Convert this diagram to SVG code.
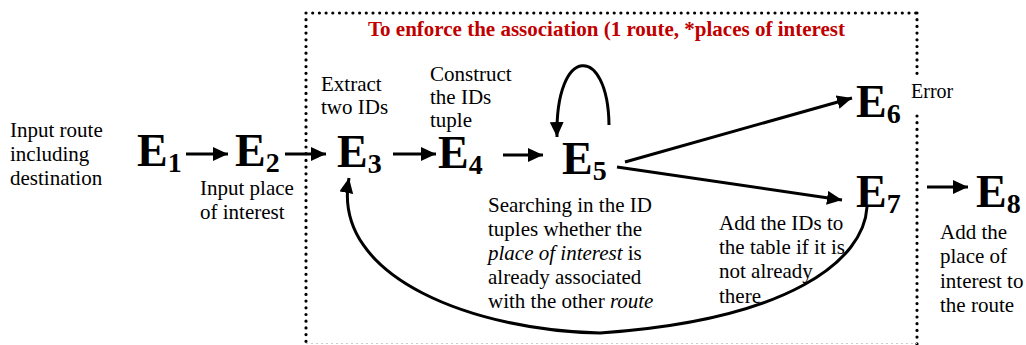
<svg xmlns="http://www.w3.org/2000/svg" width="1026" height="345" viewBox="0 0 1026 345">
<style>
text{font-family:"Liberation Serif","Tinos","Times New Roman","Noto Serif","DejaVu Serif",serif}
.t{font-size:21px;fill:#000}
.e{font-size:46px;font-weight:bold;fill:#000}
.s{font-size:28px}
.i{font-style:italic}
.c{fill:none;stroke:#000;stroke-width:3}
.dot{fill:none;stroke:#000;stroke-width:3.2;stroke-linecap:round;stroke-dasharray:0 6.7}
.title{font-size:21px;font-weight:bold;fill:#c00000}
</style>
<defs>
<marker id="ah" markerUnits="userSpaceOnUse" markerWidth="16" markerHeight="14" refX="15" refY="7" orient="auto">
<path d="M0,0 L15,7 L0,14 z" fill="#000"/>
</marker>
</defs>
<rect width="1026" height="345" fill="#fff"/>
<g id="frame">
<path class="dot" d="M306,13 H917 M306,13 V345 M917,13 V77 M917,116 V345"/>
<path d="M306,343.5 H917" stroke="#ccc" stroke-width="1" stroke-dasharray="2 3" fill="none"/>
<text class="title" x="368" y="36">To enforce the association (1 route, *places of interest</text>
</g>
<g id="connectors">
<path class="c" d="M186,154 L228,154" marker-end="url(#ah)"/>
<path class="c" d="M285,154 L326,154" marker-end="url(#ah)"/>
<path class="c" d="M393,154 L436,154" marker-end="url(#ah)"/>
<path class="c" d="M503,155 L543,155" marker-end="url(#ah)"/>
<path class="c" d="M625,162 L852,98" marker-end="url(#ah)"/>
<path class="c" d="M617,167 L842,200" marker-end="url(#ah)"/>
<path class="c" d="M927,187 L968,187" marker-end="url(#ah)"/>
<path class="c" d="M609,125 C608,44 555,44 557,137" marker-end="url(#ah)"/>
<path class="c" d="M867,207 C864,260 790,320 600,333 C480,331 330,280 349,178" marker-end="url(#ah)"/>
</g>
<g id="E1"><text class="e" x="137" y="166">E<tspan class="s" dy="6">1</tspan></text>
<text class="t" x="10" y="137">Input route</text><text class="t" x="10" y="161">including</text><text class="t" x="10" y="185">destination</text></g>
<g id="E2"><text class="e" x="235" y="166">E<tspan class="s" dy="6">2</tspan></text>
<text class="t" x="200" y="195">Input place</text><text class="t" x="200" y="219">of interest</text></g>
<g id="E3"><text class="e" x="337" y="167">E<tspan class="s" dy="6">3</tspan></text>
<text class="t" x="321" y="91">Extract</text><text class="t" x="321" y="114">two IDs</text></g>
<g id="E4"><text class="e" x="438" y="168">E<tspan class="s" dy="6">4</tspan></text>
<text class="t" x="430" y="81">Construct</text><text class="t" x="430" y="104">the IDs</text><text class="t" x="430" y="127">tuple</text></g>
<g id="E5"><text class="e" x="562" y="174">E<tspan class="s" dy="6">5</tspan></text>
<text class="t" x="488" y="212">Searching in the ID</text>
<text class="t" x="488" y="236">tuples whether the</text>
<text class="t" x="488" y="260"><tspan class="i">place of interest</tspan> is</text>
<text class="t" x="488" y="284">already associated</text>
<text class="t" x="488" y="308">with the other <tspan class="i">route</tspan></text></g>
<g id="E6"><text class="e" x="856" y="117">E<tspan class="s" dy="6">6</tspan></text>
<text class="t" x="911" y="98" style="font-size:20px">Error</text></g>
<g id="E7"><text class="e" x="856" y="207">E<tspan class="s" dy="6">7</tspan></text>
<text class="t" x="719" y="230">Add the IDs to</text><text class="t" x="719" y="254">the table if it is</text><text class="t" x="719" y="278">not already</text><text class="t" x="719" y="303">there</text></g>
<g id="E8"><text class="e" x="976" y="207">E<tspan class="s" dy="6">8</tspan></text>
<text class="t" x="940" y="239">Add the</text><text class="t" x="940" y="263">place of</text><text class="t" x="940" y="288">interest to</text><text class="t" x="940" y="312">the route</text></g>
</svg>
